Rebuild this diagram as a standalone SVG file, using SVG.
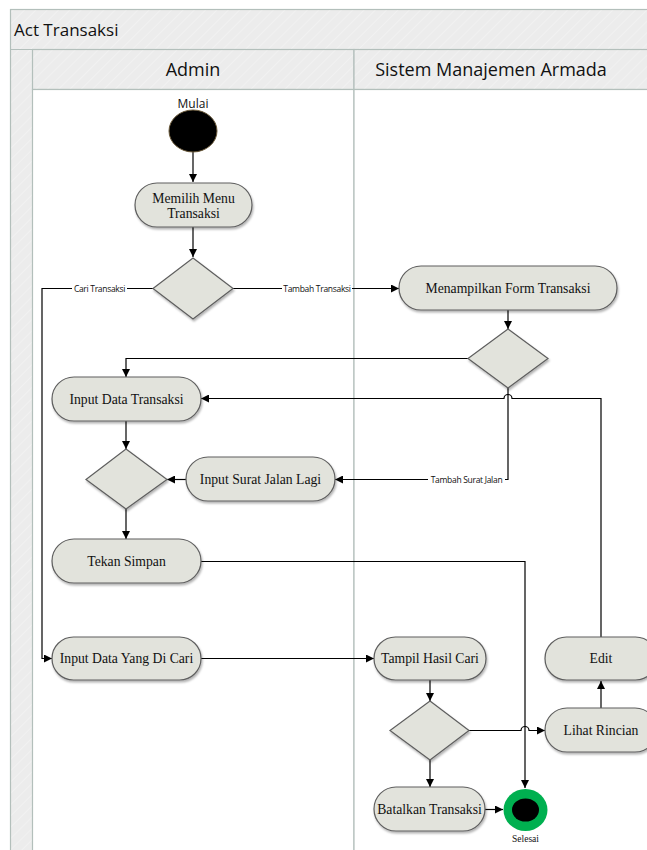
<svg xmlns="http://www.w3.org/2000/svg" width="647" height="850" viewBox="0 0 647 850">
<style>
.frame{fill:url(#hatch);stroke:#b3bfbb;stroke-width:1.2}
.lane{fill:#ffffff;stroke:#b3bfbb;stroke-width:1.2}
.hdr{font-family:"Open Sans","Noto Sans",sans-serif;font-size:17px;fill:#111}
.hdr2{font-family:"Open Sans","Noto Sans",sans-serif;font-size:18px;fill:#111;text-anchor:middle}
.node{fill:#e2e3dc;stroke:#5e5e5e;stroke-width:1.2;filter:url(#sh)}
.nt{font-family:"Liberation Serif","Times New Roman",serif;font-size:13.7px;fill:#111;text-anchor:middle;dominant-baseline:central}
.conn{fill:none;stroke:#000;stroke-width:1.2}
.lbl{font-family:"Open Sans","Noto Sans",sans-serif;font-size:8.5px;fill:#111;text-anchor:middle;dominant-baseline:central;letter-spacing:-0.3px}
.lblbg{fill:#fff}
</style>
<defs>
<pattern id="hatch" width="8" height="8" patternUnits="userSpaceOnUse" patternTransform="rotate(45)">
<rect width="8" height="8" fill="#ececec"/>
<line x1="0" y1="0" x2="0" y2="8" stroke="#f1f1f1" stroke-width="2"/>
</pattern>
<marker id="arr" viewBox="0 0 10 10" refX="10" refY="5" markerWidth="8" markerHeight="8" markerUnits="userSpaceOnUse" orient="auto">
<path d="M0,0 L10,5 L0,10 z" fill="#000"/>
</marker>
<filter id="sh" x="-20%" y="-20%" width="140%" height="150%">
<feDropShadow dx="1" dy="2" stdDeviation="1.2" flood-color="#000" flood-opacity="0.3"/>
</filter>
</defs>
<rect width="647" height="850" fill="#fff"/>
<g id="pool">
<rect class="frame" x="10.5" y="9.5" width="660" height="850"/>
<line x1="10.5" y1="49.5" x2="660" y2="49.5" stroke="#b3bfbb" stroke-width="1.2"/>
<text class="hdr" x="14" y="36">Act Transaksi</text>
</g>
<g id="lane-admin">
<rect class="frame" x="32.5" y="49.5" width="321.5" height="40"/>
<rect class="lane" x="32.5" y="89.5" width="321.5" height="770"/>
<text class="hdr2" x="193" y="76">Admin</text>
</g>
<g id="lane-sistem">
<rect class="frame" x="354" y="49.5" width="320" height="40"/>
<rect class="lane" x="354" y="89.5" width="320" height="770"/>
<text class="hdr2" x="491" y="76">Sistem Manajemen Armada</text>
</g>
<g id="connectors">
<path class="conn" d="M193,152 V182" marker-end="url(#arr)"/>
<path class="conn" d="M193,227 V257" marker-end="url(#arr)"/>
<path class="conn" d="M153,288.5 H42 V658.5 H52" marker-end="url(#arr)"/>
<rect class="lblbg" x="72" y="283" width="55" height="11"/>
<text class="lbl" x="99.5" y="288.5">Cari Transaksi</text>
<path class="conn" d="M233,288.5 H399" marker-end="url(#arr)"/>
<rect class="lblbg" x="282" y="283" width="70" height="11"/>
<text class="lbl" x="317" y="288.5">Tambah Transaksi</text>
<path class="conn" d="M508,310 V329" marker-end="url(#arr)"/>
<path class="conn" d="M468,358.5 H126 V377" marker-end="url(#arr)"/>
<path class="conn" d="M508,388 V479.5 H335" marker-end="url(#arr)"/>
<rect class="lblbg" x="428" y="474" width="77" height="11"/>
<text class="lbl" x="466.5" y="479.5">Tambah Surat Jalan</text>
<path class="conn" d="M601,637 V398.5 H512 A4,4 0 0 0 504,398.5 H201" marker-end="url(#arr)"/>
<path class="conn" d="M126,421 V449" marker-end="url(#arr)"/>
<path class="conn" d="M186,479.5 H167" marker-end="url(#arr)"/>
<path class="conn" d="M126,509 V539" marker-end="url(#arr)"/>
<path class="conn" d="M201,561.5 H525 V788" marker-end="url(#arr)"/>
<path class="conn" d="M201,658.5 H374" marker-end="url(#arr)"/>
<path class="conn" d="M430,680 V701" marker-end="url(#arr)"/>
<path class="conn" d="M469,730.5 H521 A4,4 0 0 1 529,730.5 H545" marker-end="url(#arr)"/>
<path class="conn" d="M601,708 V681" marker-end="url(#arr)"/>
<path class="conn" d="M430,760 V787" marker-end="url(#arr)"/>
<path class="conn" d="M485,809.5 H503" marker-end="url(#arr)"/>
</g>
<g id="start">
<ellipse cx="193" cy="131" rx="24" ry="21" fill="#000" stroke="#6b5a3a" stroke-width="1"/>
<text x="193" y="108" text-anchor="middle" font-family="Open Sans, Noto Sans, sans-serif" font-size="12" fill="#111">Mulai</text>
</g>
<g id="memilih-menu">
<rect class="node" x="135" y="183" width="117" height="44" rx="22"/>
<text class="nt" x="193.5" y="198">Memilih Menu</text>
<text class="nt" x="193.5" y="213.5">Transaksi</text>
</g>
<g id="decision1">
<polygon class="node" points="193,258 233,288.5 193,319 153,288.5"/>
</g>
<g id="menampilkan-form">
<rect class="node" x="399" y="266" width="218" height="44" rx="22"/>
<text class="nt" x="508" y="288">Menampilkan Form Transaksi</text>
</g>
<g id="decision2">
<polygon class="node" points="508,329 548,358.5 508,388 468,358.5"/>
</g>
<g id="input-data-transaksi">
<rect class="node" x="52" y="377" width="149" height="44" rx="22"/>
<text class="nt" x="126.5" y="399">Input Data Transaksi</text>
</g>
<g id="decision3">
<polygon class="node" points="126,449 167,479.5 126,509 86,479.5"/>
</g>
<g id="input-surat-jalan">
<rect class="node" x="186" y="457" width="149" height="44" rx="22"/>
<text class="nt" x="260.5" y="479">Input Surat Jalan Lagi</text>
</g>
<g id="tekan-simpan">
<rect class="node" x="52" y="539" width="149" height="44" rx="22"/>
<text class="nt" x="126.5" y="561">Tekan Simpan</text>
</g>
<g id="input-data-cari">
<rect class="node" x="52" y="637" width="149" height="43" rx="21.5"/>
<text class="nt" x="126.5" y="658.5">Input Data Yang Di Cari</text>
</g>
<g id="tampil-hasil-cari">
<rect class="node" x="374" y="637" width="112" height="43" rx="21.5"/>
<text class="nt" x="430" y="658.5">Tampil Hasil Cari</text>
</g>
<g id="decision4">
<polygon class="node" points="430,701 469,730.5 430,760 390,730.5"/>
</g>
<g id="edit">
<rect class="node" x="545" y="637" width="112" height="43" rx="21.5"/>
<text class="nt" x="601" y="658.5">Edit</text>
</g>
<g id="lihat-rincian">
<rect class="node" x="545" y="708" width="112" height="44" rx="22"/>
<text class="nt" x="601" y="730">Lihat Rincian</text>
</g>
<g id="batalkan-transaksi">
<rect class="node" x="374" y="787" width="111" height="44" rx="22"/>
<text class="nt" x="429.5" y="809">Batalkan Transaksi</text>
</g>
<g id="selesai">
<ellipse cx="525.5" cy="810" rx="22" ry="21" fill="#00b050"/>
<ellipse cx="525.5" cy="810" rx="13.5" ry="11.5" fill="#000"/>
<text x="525.5" y="842" text-anchor="middle" font-family="Liberation Serif, serif" font-size="9.5" fill="#111">Selesai</text>
</g>
</svg>
